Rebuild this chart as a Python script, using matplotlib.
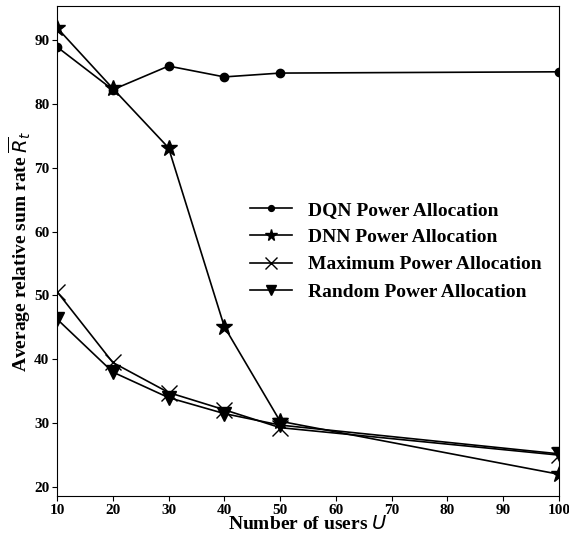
import matplotlib.pyplot as plt
import numpy as np

plt.rcParams['font.family'] = ['Liberation Serif', 'DejaVu Sans']
plt.rcParams['font.weight'] = 'bold'
plt.rcParams['mathtext.fontset'] = 'custom'
plt.rcParams['mathtext.it'] = 'DejaVu Sans:italic:normal'
plt.rcParams['mathtext.rm'] = 'DejaVu Sans:normal'

users = [10, 20, 30, 40, 50, 100]
dqn = [88.9, 82.2, 85.9, 84.2, 84.8, 85.0]
dnn = [91.9, 82.4, 73.1, 45.1, 30.3, 22.0]
max_power = [50.6, 39.5, 34.8, 32.1, 29.3, 25.0]
random_power = [46.3, 38.0, 34.0, 31.5, 29.7, 25.2]

fig = plt.figure(figsize=(5.69, 5.33), dpi=100)
ax = fig.add_axes([57 / 569, 37 / 533, 502 / 569, 490 / 533])

ax.plot(users, dqn, 'k-', marker='o', markersize=6, linewidth=1.2, label='DQN Power Allocation')
ax.plot(users, dnn, 'k-', marker='*', markersize=12, linewidth=1.2, label='DNN Power Allocation')
ax.plot(users, max_power, 'k-', marker='x', markersize=12, markeredgewidth=1.0, linewidth=1.2, label='Maximum Power Allocation')
ax.plot(users, random_power, 'k-', marker='v', markersize=10, linewidth=1.2, label='Random Power Allocation')

ax.set_xlim(10, 100)
ax.set_ylim(18.6, 95.3)
ax.set_xticks(np.arange(10, 101, 10))
ax.set_yticks(np.arange(20, 91, 10))
ax.tick_params(labelsize=11, pad=2)
for lbl in ax.get_xticklabels() + ax.get_yticklabels():
    lbl.set_fontweight('bold')

ax.set_xlabel('Number of users $U$', fontsize=14, fontweight='bold', labelpad=-1)
ax.set_ylabel('Average relative sum rate $\\overline{R}_t$', fontsize=14, fontweight='bold', labelpad=1)

ax.legend(loc='center right', bbox_to_anchor=(1.0, 0.5), frameon=False,
          prop={'size': 14, 'weight': 'bold'}, markerscale=0.7, handlelength=2.2)

fig.savefig('out.png', dpi=100)
